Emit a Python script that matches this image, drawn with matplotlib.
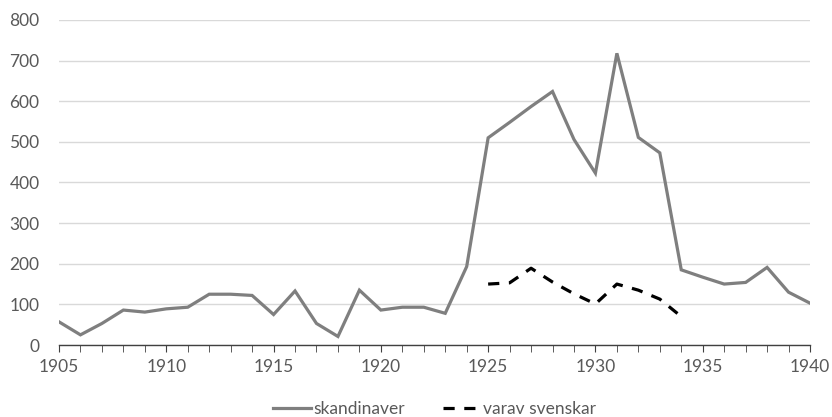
import numpy as np
import matplotlib.pyplot as plt
from matplotlib.ticker import MultipleLocator

plt.rcParams['font.family'] = ['Lato', 'DejaVu Sans']

years = list(range(1905, 1941))
skandinaver = [57, 25, 53, 86, 81, 89, 93, 125, 125, 122,
               75, 133, 53, 21, 135, 86, 93, 93, 78, 193,
               510, 548, 587, 624, 506, 423, 718, 511, 473, 185,
               167, 150, 154, 191, 130, 103]

sv_years = list(range(1925, 1935))
varav_svenskar = [150, 153, 189, 155, 126, 101, 150, 135, 113, 70]

fig = plt.figure(figsize=(8.32, 4.17), dpi=100)
ax = fig.add_axes([59/832, 1 - 345/417, (810 - 59)/832, (345 - 20)/417])

ax.plot(years, skandinaver, color='#7f7f7f', lw=2.3, label='skandinaver',
        solid_joinstyle='miter', zorder=3)
ax.plot(sv_years, varav_svenskar, color='black', lw=2.3, dashes=(3.5, 3),
        label='varav svenskar', zorder=3)

ax.set_xlim(1905, 1940)
ax.set_ylim(0, 800)
ax.xaxis.set_major_locator(MultipleLocator(5))
ax.xaxis.set_minor_locator(MultipleLocator(1))
ax.yaxis.set_major_locator(MultipleLocator(100))

ax.grid(axis='y', color='#d9d9d9', lw=1)
ax.set_axisbelow(True)
for s in ['left', 'right', 'top']:
    ax.spines[s].set_visible(False)
ax.spines['bottom'].set_color('#404040')
ax.spines['bottom'].set_linewidth(1)

fs = 12.5
ax.tick_params(axis='y', length=0, pad=14, labelsize=fs, labelcolor='#595959')
ax.tick_params(axis='x', which='both', direction='out', length=5, color='#404040',
               labelsize=fs, labelcolor='#595959', pad=5)

leg = ax.legend(loc='upper center', bbox_to_anchor=(0.5, -0.125), ncol=2,
                frameon=False, fontsize=fs, handlelength=2.2,
                handletextpad=0.1, columnspacing=2.2)
for t in leg.get_texts():
    t.set_color('#595959')

fig.savefig('out.png', dpi=100)
